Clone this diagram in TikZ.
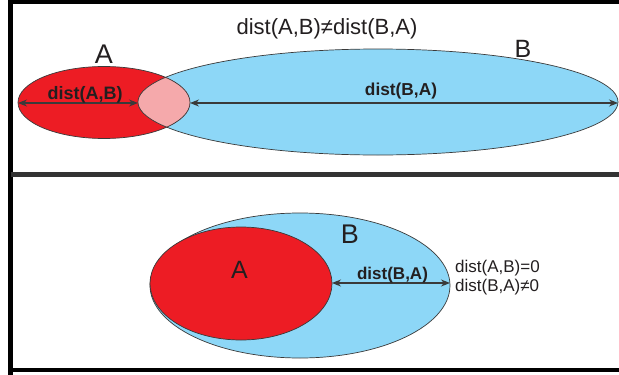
\documentclass[tikz,border=0pt]{standalone}
\usepackage{fontspec}
\setmainfont{Liberation Sans}
\usetikzlibrary{arrows.meta}
\definecolor{ared}{HTML}{ED1C24}
\definecolor{bblue}{HTML}{8DD7F7}
\definecolor{lpink}{HTML}{F5A9AB}
\definecolor{ink}{HTML}{231F20}
\definecolor{edge}{HTML}{3A3A3A}
\begin{document}
\begin{tikzpicture}[x=1pt,y=-1pt,
  blob/.style={draw=edge,line width=0.7pt},
  distarrow/.style={draw=edge,line width=1.1pt,{Stealth[length=9pt,width=7pt]}-{Stealth[length=9pt,width=7pt]}},
  frame/.style={line width=4.5pt,draw=black},
  divider/.style={line width=4.5pt,draw=black!80},
  lbl/.style={inner sep=0pt,anchor=base,text=ink},
  bold/.style={lbl,font=\fontsize{18}{20}\selectfont\bfseries},
  big/.style={lbl,font=\fontsize{27}{30}\selectfont},
  plain/.style={lbl,font=\fontsize{17}{20}\selectfont}]
\useasboundingbox (0,0) rectangle (619,375);
\fill[white] (0,0) rectangle (619,375);
% frames
\draw[frame] (10.5,1.5) -- (630,1.5);
\draw[frame] (10.5,-5) -- (10.5,380);
\draw[divider] (10.5,174.5) -- (630,174.5);
\draw[line width=4pt,draw=black] (10.5,369.5) -- (630,369.5);
% ---------- top panel ----------
\fill[bblue] (378,102) ellipse [x radius=240pt,y radius=53pt];
\fill[ared] (104,102.5) ellipse [x radius=86pt,y radius=36pt];
\begin{scope}
  \clip (104,102.5) ellipse [x radius=86pt,y radius=36pt];
  \fill[lpink] (378,102) ellipse [x radius=240pt,y radius=53pt];
\end{scope}
\draw[blob] (378,102) ellipse [x radius=240pt,y radius=53pt];
\draw[blob] (104,102.5) ellipse [x radius=86pt,y radius=36pt];
\coordinate (aL) at (18,103);
\coordinate (bL) at (138,103);
\coordinate (aR) at (190,103);
\coordinate (bR) at (618,103);
\draw[distarrow] (aL) -- (bL);
\draw[distarrow] (aR) -- (bR);
\node[big] (tA) at (104,63) {A};
\node[big,font=\fontsize{25}{28}\selectfont] (tB) at (523,57) {B};
\node[lbl,font=\fontsize{22}{24}\selectfont] (title) at (327,34) {dist(A,B)≠dist(B,A)};
\node[bold] (tAB) at (85,99) {dist(A,B)};
\node[bold,font=\fontsize{17.3}{20}\selectfont\bfseries] (tBA) at (401,95) {dist(B,A)};
% ---------- bottom panel ----------
\fill[bblue] (300,285.5) ellipse [x radius=150pt,y radius=72.5pt];
\draw[blob] (300,285.5) ellipse [x radius=150pt,y radius=72.5pt];
\fill[ared] (241,283.5) ellipse [x radius=91pt,y radius=56.5pt];
\draw[blob] (241,283.5) ellipse [x radius=91pt,y radius=56.5pt];
\coordinate (a2R) at (332,283);
\coordinate (b2R) at (450,283);
\draw[distarrow] (a2R) -- (b2R);
\node[big,font=\fontsize{25}{28}\selectfont] (bA) at (239.5,278) {A};
\node[big] (bB) at (350,243) {B};
\node[bold,font=\fontsize{17}{20}\selectfont\bfseries] (bBA) at (392.5,279) {dist(B,A)};
\node[plain,anchor=base west] (eq1) at (455,272) {dist(A,B)=0};
\node[plain,anchor=base west] (eq2) at (455,291) {dist(B,A)≠0};
\end{tikzpicture}
\end{document}
